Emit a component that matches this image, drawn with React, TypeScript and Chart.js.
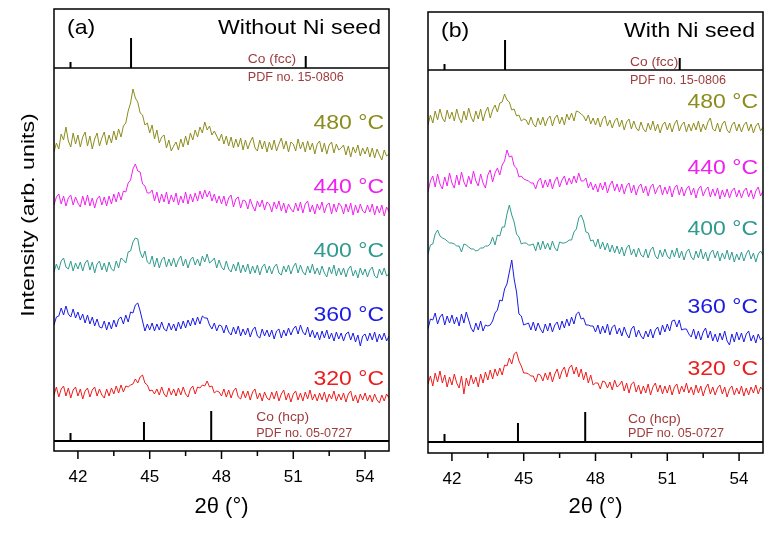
import React, { useEffect, useRef } from "react";
import { Chart, registerables } from "chart.js";

Chart.register(...registerables);

// ---------- data ----------
const THETA_START = 41.0;
const THETA_STEP = 0.1;
const X_MIN = 41;
const X_MAX = 55;
const X_TICKS = [42, 43.5, 45, 46.5, 48, 49.5, 51, 52.5, 54];
const X_LABELED = [42, 45, 48, 51, 54];

const TEMPS = ["480 °C", "440 °C", "400 °C", "360 °C", "320 °C"];
const COLORS = ["#8c8c1e", "#f020f0", "#2f9a8e", "#1a1ae6", "#ee1c1c"];

// reference patterns (relative intensity, %)
const FCC_POS = [41.69, 44.22, 51.52];
const FCC_INT = [20, 100, 40];
const HCP_POS = [41.69, 44.76, 47.57];
const HCP_INT = [27, 63, 100];

// panel (a) without Ni seed: traces (41.0 .. 55.0, step 0.1), relative intensity
const A_480 = [
  8, 17, 11, 26, 20, 33, 19, 13, 27, 16,
  25, 13, 23, 28, 14, 24, 11, 21, 27, 14,
  22, 28, 15, 25, 17, 29, 20, 31, 23, 34,
  37, 49, 57, 71, 62, 58, 47, 45, 35, 37,
  27, 35, 21, 30, 17, 23, 25, 12, 20, 9,
  14, 18, 10, 21, 13, 24, 15, 27, 20, 30,
  23, 33, 27, 38, 30, 34, 25, 29, 24, 19,
  26, 16, 24, 14, 23, 12, 21, 13, 22, 10,
  20, 11, 18, 23, 12, 9, 20, 11, 19, 8,
  18, 10, 20, 9, 16, 22, 11, 19, 8, 18,
  16, 9, 21, 11, 18, 8, 19, 10, 17, 6,
  16, 19, 8, 17, 6, 15, 18, 7, 16, 10,
  12, 15, 5, 14, 3, 13, 7, 15, 4, 12,
  6, 13, 3, 12, 2, 11, 5, 0, 10, 4,
  6,
];
const A_440 = [
  10, 18, 21, 11, 19, 9, 17, 20, 10, 18,
  12, 8, 19, 10, 20, 9, 17, 7, 16, 19,
  10, 18, 9, 19, 11, 21, 13, 23, 15, 24,
  23, 32, 35, 46, 51, 44, 43, 31, 29, 22,
  22, 25, 14, 23, 12, 21, 13, 23, 11, 20,
  13, 22, 10, 19, 12, 23, 11, 21, 13, 22,
  14, 24, 16, 25, 18, 24, 14, 21, 12, 19,
  11, 19, 9, 17, 20, 8, 16, 18, 7, 15,
  14, 6, 16, 9, 4, 14, 8, 15, 5, 13,
  11, 3, 13, 6, 14, 4, 12, 2, 11, 6,
  3, 12, 4, 13, 2, 11, 14, 3, 10, 1,
  11, 5, 13, 2, 10, 12, 1, 11, 3, 12,
  9, 1, 11, 3, 12, 0, 10, 2, 11, 4,
  2, 10, 3, 11, 0, 9, 2, 10, -1, 8,
  3,
];
const A_400 = [
  8, 16, 10, 19, 22, 13, 11, 19, 9, 17,
  11, 18, 9, 17, 20, 10, 18, 7, 16, 19,
  10, 17, 8, 18, 11, 9, 19, 12, 22, 20,
  17, 28, 29, 38, 42, 41, 28, 22, 29, 18,
  16, 24, 13, 22, 12, 20, 23, 13, 21, 14,
  22, 13, 20, 24, 14, 21, 12, 20, 23, 15,
  21, 14, 24, 18, 26, 17, 19, 22, 12, 20,
  13, 10, 19, 11, 8, 16, 9, 18, 7, 15,
  8, 16, 6, 14, 7, 15, 5, 13, 16, 7,
  14, 6, 13, 16, 7, 5, 14, 8, 15, 6,
  13, 17, 7, 15, 8, 5, 14, 7, 16, 6,
  12, 5, 14, 7, 3, 13, 6, 15, 4, 12,
  5, 12, 3, 11, 14, 4, 10, 2, 12, 5,
  11, 3, 10, 13, 4, 2, 11, 5, 12, 4,
  6,
];
const A_360 = [
  15, 23, 24, 32, 25, 34, 26, 23, 31, 22,
  28, 20, 26, 17, 25, 16, 23, 14, 21, 13,
  12, 19, 10, 18, 11, 20, 13, 21, 23, 16,
  25, 18, 28, 27, 35, 37, 29, 19, 9, 16,
  10, 17, 9, 16, 10, 18, 11, 9, 17, 10,
  16, 9, 18, 11, 19, 12, 20, 14, 22, 15,
  23, 16, 24, 22, 22, 15, 11, 17, 9, 15,
  14, 7, 15, 8, 5, 13, 6, 14, 4, 11,
  5, 12, 3, 10, 13, 4, 2, 11, 4, 10,
  3, 10, 1, 9, 11, 2, 10, 4, 12, 5,
  11, 14, 6, 15, 8, 5, 13, 3, 10, 2,
  8, 0, 9, 2, 10, 1, 7, -1, 8, 1,
  7, -1, 6, 8, 0, 7, -2, 5, -6, 4,
  6, -1, 7, 0, 8, -2, 6, 0, 7, -1,
  4,
];
const A_320 = [
  7, 15, 5, 13, 16, 6, 14, 4, 12, 15,
  6, 13, 3, 11, 14, 5, 12, 15, 6, 13,
  7, 4, 13, 6, 14, 8, 16, 9, 17, 10,
  16, 15, 17, 18, 23, 19, 25, 27, 19, 17,
  11, 12, 8, 13, 7, 15, 8, 5, 14, 7,
  13, 6, 14, 7, 15, 8, 5, 13, 16, 8,
  15, 14, 17, 16, 21, 15, 16, 9, 11, 10,
  6, 13, 5, 12, 4, 11, 14, 5, 3, 11,
  4, 11, 2, 10, 13, 3, 9, 1, 10, 4,
  2, 10, 3, 11, 1, 8, 12, 2, 9, 0,
  8, 11, 2, 9, 1, 10, 3, 12, 2, 8,
  1, 9, 2, 10, 0, 8, 3, 11, 1, 8,
  2, 9, 0, 8, 11, 1, 7, -1, 8, 2,
  9, 1, 7, 0, 8, 2, -1, 7, 1, 8,
  4,
];
const OFFSETS_A = [291, 236, 171, 111, 49];

// panel (b) with Ni seed
const B_480 = [
  7, 17, 9, 21, 12, 23, 14, 10, 22, 13,
  20, 11, 23, 14, 9, 21, 12, 24, 15, 10,
  21, 13, 23, 11, 20, 25, 14, 22, 27, 20,
  29, 30, 38, 32, 30, 22, 23, 16, 17, 11,
  13, 12, 7, 15, 8, 5, 14, 7, 15, 6,
  13, 16, 6, 14, 17, 8, 15, 7, 18, 12,
  19, 11, 21, 20, 18, 16, 11, 17, 8, 14,
  7, 14, 5, 13, 16, 6, 12, 4, 11, 14,
  5, 12, 2, 10, 13, 3, 11, 4, 1, 10,
  3, 0, 9, 2, 11, 1, 8, -1, 7, 10,
  2, 9, 0, 8, 12, 1, 7, 10, 0, 8,
  1, 9, 2, 11, 0, 8, 2, 10, 14, 3,
  1, 9, 0, 8, 11, 2, -1, 7, 10, 1,
  8, 0, 7, 10, 1, 8, -1, 6, 9, 1,
  5,
];
const B_440 = [
  5, 16, 21, 10, 23, 13, 8, 20, 11, 24,
  14, 9, 22, 12, 25, 15, 10, 21, 13, 26,
  16, 11, 23, 14, 9, 22, 27, 15, 24, 29,
  22, 32, 36, 47, 40, 41, 31, 29, 20, 21,
  18, 17, 16, 14, 14, 8, 16, 19, 9, 17,
  10, 18, 8, 16, 20, 10, 17, 21, 12, 19,
  13, 21, 14, 24, 16, 16, 19, 9, 15, 7,
  13, 5, 14, 7, 15, 4, 12, 16, 6, 13,
  5, 13, 3, 11, 14, 4, 12, 2, 10, 13,
  4, 11, 1, 10, 13, 3, 9, 12, 2, 10,
  3, 11, 0, 9, 12, 2, 10, 1, 8, 11,
  2, 9, -1, 8, 11, 1, 7, 10, 0, 8,
  1, 9, -2, 7, 0, 8, -1, 6, 9, 0,
  7, -1, 6, 9, 0, 7, -2, 6, 10, 1,
  6,
];
const B_400 = [
  6, 15, 16, 26, 30, 24, 22, 21, 19, 17,
  17, 16, 14, 14, 8, 16, 15, 13, 11, 11,
  9, 10, 12, 12, 14, 14, 16, 23, 15, 25,
  24, 33, 33, 46, 55, 45, 38, 26, 23, 16,
  17, 17, 15, 15, 16, 9, 18, 10, 19, 11,
  17, 10, 19, 12, 9, 18, 17, 17, 18, 20,
  20, 28, 31, 42, 45, 39, 28, 27, 19, 20,
  13, 21, 11, 18, 10, 17, 8, 15, 7, 14,
  6, 13, 4, 12, 15, 5, 11, 3, 12, 5,
  3, 11, 2, 10, 13, 4, 1, 10, 3, 11,
  4, 1, 10, 3, 12, 2, 9, 0, 8, 11,
  3, 0, 9, 2, 11, 1, 8, -1, 7, 10,
  2, 9, -1, 7, 1, 10, 0, 8, -2, 6,
  0, 8, -1, 6, 10, 1, 7, -2, 6, 9,
  5,
];
const B_360 = [
  11, 21, 20, 27, 16, 23, 26, 15, 24, 17,
  25, 16, 23, 14, 26, 17, 28, 20, 12, 8,
  17, 10, 19, 9, 15, 14, 15, 19, 27, 30,
  40, 39, 51, 56, 68, 80, 61, 48, 26, 24,
  15, 16, 17, 10, 18, 9, 17, 11, 7, 16,
  9, 17, 8, 15, 18, 10, 19, 12, 21, 14,
  23, 16, 26, 28, 21, 22, 15, 15, 14, 14,
  8, 15, 6, 14, 7, 16, 5, 13, 15, 6,
  12, 4, 13, 6, 2, 11, 14, 3, 10, 4,
  1, 9, 3, 11, 2, 10, 13, 5, 15, 8,
  16, 9, 19, 20, 13, 20, 10, 11, 11, 6,
  3, 11, 1, 9, 0, 8, 12, 2, 9, -1,
  6, -2, 7, 0, 9, -1, -5, 6, -2, 8,
  0, 7, -2, 6, 9, -1, 5, -3, 6, 0,
  3,
];
const B_320 = [
  11, 19, 9, 22, 13, 24, 12, 20, 8, 18,
  10, 21, 12, 7, 19, 1, 17, 9, 20, 11,
  18, 8, 21, 12, 23, 15, 25, 16, 26, 19,
  27, 20, 30, 29, 37, 31, 41, 43, 34, 29,
  22, 22, 21, 19, 19, 13, 21, 20, 14, 22,
  15, 23, 13, 21, 26, 16, 24, 28, 18, 27,
  30, 21, 28, 18, 26, 15, 23, 12, 20, 10,
  12, 12, 6, 14, 13, 7, 13, 5, 15, 8,
  10, 14, 4, 12, 2, 11, 13, 3, 10, 1,
  9, 2, 11, 0, 8, 12, 3, 10, 1, 9,
  2, 10, 0, 8, 11, 1, 9, 3, 12, 2,
  8, 0, 10, 2, 9, -1, 7, 11, 1, 8,
  0, 7, 10, 1, 8, -2, 6, 9, 0, 7,
  1, 9, -1, 7, 0, 8, 2, 10, 1, 8,
  5,
];
const OFFSETS_B = [321, 256, 193, 113, 58];

// ---------- drawing ----------
const FONT = 'Arial, "Liberation Sans", Helvetica, sans-serif';
const CANVAS_H = 552;
const STICK_SCALE = 0.3;
const REF_COLOR = "#9e3b3b";

type Panel = {
  width: number;
  padLeft: number;
  padTop: number;
  padRight: number;
  plotBottom: number;
  yMax: number;
  tag: string;
  title: string;
  series: number[][];
  offsets: number[];
  labelLift: number[];
  fccBase: number;
  hcpBase: number;
  fccLabel: { x: number; y1: number; y2: number };
  hcpLabel: { x: number; y1: number; y2: number };
  showYTitle: boolean;
};

const PANEL_A: Panel = {
  width: 400,
  padLeft: 54,
  padTop: 9,
  padRight: 11,
  plotBottom: 451,
  yMax: 442,
  tag: "(a)",
  title: "Without Ni seed",
  series: [A_480, A_440, A_400, A_360, A_320],
  offsets: OFFSETS_A,
  labelLift: [37, 28, 29, 25, 23],
  fccBase: 383,
  hcpBase: 10,
  fccLabel: { x: 49.1, y1: 391, y2: 373 },
  hcpLabel: { x: 49.45, y1: 33, y2: 17 },
  showYTitle: true,
};

const PANEL_B: Panel = {
  width: 370,
  padLeft: 28,
  padTop: 12,
  padRight: 7,
  plotBottom: 453,
  yMax: 441,
  tag: "(b)",
  title: "With Ni seed",
  series: [B_480, B_440, B_400, B_360, B_320],
  offsets: OFFSETS_B,
  labelLift: [30, 29, 31, 33, 26],
  fccBase: 383,
  hcpBase: 11,
  fccLabel: { x: 49.44, y1: 390, y2: 372 },
  hcpLabel: { x: 49.36, y1: 33, y2: 19 },
  showYTitle: false,
};

function drawText(
  ctx: CanvasRenderingContext2D,
  text: string,
  x: number,
  y: number,
  size: number,
  color: string,
  align: CanvasTextAlign,
  sx = 1
) {
  ctx.save();
  ctx.font = `${size}px ${FONT}`;
  ctx.fillStyle = color;
  ctx.textBaseline = "middle";
  ctx.textAlign = align;
  ctx.translate(x, y);
  ctx.scale(sx, 1);
  ctx.fillText(text, 0, 0);
  ctx.restore();
}

function stickData(pos: number[], inten: number[], base: number) {
  const d: { x: number; y: number | null }[] = [];
  pos.forEach((x, i) => {
    d.push({ x, y: base }, { x, y: base + inten[i] * STICK_SCALE }, { x, y: null });
  });
  return d;
}

function makeChart(canvas: HTMLCanvasElement, p: Panel) {
  const datasets: any[] = [];
  p.series.forEach((vals, i) => {
    datasets.push({
      data: vals.map((v, j) => ({
        x: Math.round((THETA_START + j * THETA_STEP) * 100) / 100,
        y: p.offsets[i] + v,
      })),
      borderColor: COLORS[i],
      borderWidth: 1,
      pointRadius: 0,
      tension: 0,
    });
  });
  datasets.push({
    data: stickData(FCC_POS, FCC_INT, p.fccBase),
    borderColor: "#000",
    borderWidth: 2,
    pointRadius: 0,
    spanGaps: false,
  });
  datasets.push({
    data: stickData(HCP_POS, HCP_INT, p.hcpBase),
    borderColor: "#000",
    borderWidth: 2,
    pointRadius: 0,
    spanGaps: false,
  });
  datasets.push({
    data: [
      { x: X_MIN, y: p.fccBase },
      { x: X_MAX, y: p.fccBase },
    ],
    borderColor: "#000",
    borderWidth: 1.5,
    pointRadius: 0,
  });
  datasets.push({
    data: [
      { x: X_MIN, y: p.hcpBase },
      { x: X_MAX, y: p.hcpBase },
    ],
    borderColor: "#000",
    borderWidth: 2,
    pointRadius: 0,
  });

  const decor = {
    id: "decor",
    afterDraw(chart: any) {
      const { ctx, chartArea } = chart;
      const xs = chart.scales.x;
      const ys = chart.scales.y;
      const { left, right, top, bottom } = chartArea;
      ctx.save();
      ctx.strokeStyle = "#000";
      ctx.lineWidth = 1.5;
      ctx.strokeRect(left, top, right - left, bottom - top);
      X_TICKS.forEach((v) => {
        const x = xs.getPixelForValue(v);
        const len = X_LABELED.includes(v) ? 8 : 5;
        ctx.beginPath();
        ctx.moveTo(x, bottom);
        ctx.lineTo(x, bottom + len);
        ctx.stroke();
      });
      ctx.restore();

      drawText(ctx, p.tag, left + 13, top + 19, 21, "#000", "left", 1.1);
      drawText(ctx, p.title, right - 8, top + 19, 21, "#000", "right", 1.1);

      TEMPS.forEach((t, i) => {
        const y = ys.getPixelForValue(p.offsets[i] + p.labelLift[i]);
        drawText(ctx, t, right - 5, y, 20, COLORS[i], "right", 1.15);
      });

      const fx = xs.getPixelForValue(p.fccLabel.x);
      drawText(ctx, "Co (fcc)", fx, ys.getPixelForValue(p.fccLabel.y1), 12, REF_COLOR, "left", 1.15);
      drawText(ctx, "PDF no. 15-0806", fx, ys.getPixelForValue(p.fccLabel.y2), 12, REF_COLOR, "left", 1.05);
      const hx = xs.getPixelForValue(p.hcpLabel.x);
      drawText(ctx, "Co (hcp)", hx, ys.getPixelForValue(p.hcpLabel.y1), 12, REF_COLOR, "left", 1.15);
      drawText(ctx, "PDF no. 05-0727", hx, ys.getPixelForValue(p.hcpLabel.y2), 12, REF_COLOR, "left", 1.05);

      if (p.showYTitle) {
        ctx.save();
        ctx.translate(29, 215);
        ctx.rotate(-Math.PI / 2);
        ctx.scale(1.22, 1);
        ctx.font = `19px ${FONT}`;
        ctx.fillStyle = "#000";
        ctx.textAlign = "center";
        ctx.textBaseline = "middle";
        ctx.fillText("Intensity (arb. units)", 0, 0);
        ctx.restore();
      }
    },
  };

  return new Chart(canvas, {
    type: "line",
    data: { datasets },
    options: {
      responsive: false,
      animation: false,
      events: [],
      plugins: { legend: { display: false }, tooltip: { enabled: false } },
      layout: { padding: { left: p.padLeft, top: p.padTop, right: p.padRight, bottom: 0 } },
      scales: {
        x: {
          type: "linear",
          min: X_MIN,
          max: X_MAX,
          afterBuildTicks: (s: any) => {
            s.ticks = X_TICKS.map((v) => ({ value: v }));
          },
          afterFit: (s: any) => {
            s.height = CANVAS_H - p.plotBottom;
          },
          grid: { display: false },
          border: { display: false },
          ticks: {
            autoSkip: false,
            maxRotation: 0,
            padding: 8,
            color: "#000",
            font: { size: 17, family: FONT },
            callback: (v: any) => (X_LABELED.includes(Number(v)) ? String(v) : ""),
          },
          title: {
            display: true,
            text: "2θ (°)",
            color: "#000",
            font: { size: 22, family: FONT },
            padding: { top: 0, bottom: 32 },
          },
        },
        y: { display: false, min: 0, max: p.yMax },
      },
    },
    plugins: [decor],
  } as any);
}

export default function App() {
  const refA = useRef<HTMLCanvasElement>(null);
  const refB = useRef<HTMLCanvasElement>(null);
  useEffect(() => {
    const ca = makeChart(refA.current!, PANEL_A);
    const cb = makeChart(refB.current!, PANEL_B);
    return () => {
      ca.destroy();
      cb.destroy();
    };
  }, []);
  return (
    <div
      style={{
        position: "fixed",
        left: 0,
        top: 0,
        width: 770,
        height: 552,
        background: "#fff",
        display: "flex",
      }}
    >
      <canvas ref={refA} width={400} height={552} style={{ display: "block", width: 400, height: 552 }} />
      <canvas ref={refB} width={370} height={552} style={{ display: "block", width: 370, height: 552 }} />
    </div>
  );
}
